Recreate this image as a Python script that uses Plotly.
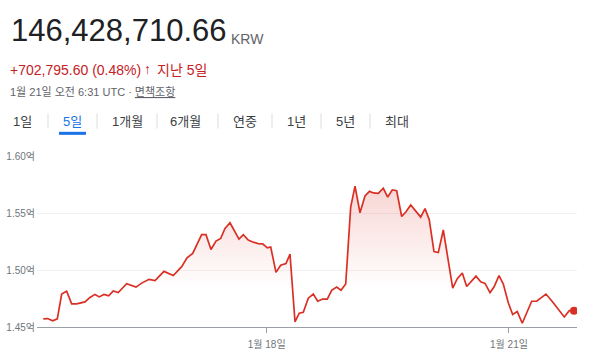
import plotly.graph_objects as go

# ---------------- data (values in 억 KRW) ----------------
times = [
    "2025-01-15 05:37", "2025-01-15 06:55", "2025-01-15 08:25", "2025-01-15 09:47",
    "2025-01-15 11:05", "2025-01-15 12:34", "2025-01-15 14:03", "2025-01-15 15:33",
    "2025-01-15 18:00", "2025-01-15 19:30", "2025-01-15 20:59", "2025-01-15 22:15",
    "2025-01-15 23:39", "2025-01-16 01:03", "2025-01-16 02:25", "2025-01-16 03:54",
    "2025-01-16 06:24", "2025-01-16 09:10", "2025-01-16 10:51", "2025-01-16 13:02",
    "2025-01-16 14:49", "2025-01-16 17:29", "2025-01-16 20:15", "2025-01-16 22:45",
    "2025-01-17 00:19", "2025-01-17 02:01", "2025-01-17 04:41", "2025-01-17 05:58",
    "2025-01-17 07:27", "2025-01-17 08:56", "2025-01-17 10:20", "2025-01-17 11:37",
    "2025-01-17 13:06", "2025-01-17 14:35", "2025-01-17 15:46", "2025-01-17 17:03",
    "2025-01-17 18:32", "2025-01-17 20:01", "2025-01-17 21:30", "2025-01-17 22:49",
    "2025-01-18 00:11", "2025-01-18 01:12", "2025-01-18 02:46", "2025-01-18 04:10",
    "2025-01-18 05:44", "2025-01-18 06:56", "2025-01-18 08:25", "2025-01-18 09:41",
    "2025-01-18 10:53", "2025-01-18 12:22", "2025-01-18 13:51", "2025-01-18 15:10",
    "2025-01-18 16:39", "2025-01-18 18:01", "2025-01-18 19:19", "2025-01-18 20:48",
    "2025-01-18 22:05", "2025-01-18 23:29", "2025-01-19 00:58", "2025-01-19 02:15",
    "2025-01-19 03:44", "2025-01-19 05:13", "2025-01-19 06:33", "2025-01-19 07:44",
    "2025-01-19 09:10", "2025-01-19 10:39", "2025-01-19 11:58", "2025-01-19 13:20",
    "2025-01-19 14:38", "2025-01-19 16:07", "2025-01-19 17:24", "2025-01-19 18:48",
    "2025-01-19 20:17", "2025-01-19 21:46", "2025-01-19 23:03", "2025-01-20 00:19",
    "2025-01-20 01:43", "2025-01-20 03:00", "2025-01-20 04:29", "2025-01-20 07:17",
    "2025-01-20 08:39", "2025-01-20 10:08", "2025-01-20 11:26", "2025-01-20 14:12",
    "2025-01-20 15:36", "2025-01-20 16:53", "2025-01-20 18:22", "2025-01-20 19:33",
    "2025-01-20 21:02", "2025-01-20 22:19", "2025-01-20 23:48", "2025-01-21 01:06",
    "2025-01-21 02:28", "2025-01-21 03:57", "2025-01-21 06:45", "2025-01-21 08:14",
    "2025-01-21 11:00", "2025-01-21 12:59", "2025-01-21 16:26", "2025-01-21 17:55",
    "2025-01-21 19:19",
]
prices = [
    1.4571, 1.4574, 1.4555, 1.4571, 1.4789, 1.4814, 1.4703, 1.4703,
    1.4720, 1.4759, 1.4786, 1.4764, 1.4786, 1.4773, 1.4817, 1.4802,
    1.4880, 1.4850, 1.4885, 1.4918, 1.4907, 1.4988, 1.4951, 1.5029,
    1.5106, 1.5145, 1.5310, 1.5310, 1.5180, 1.5254, 1.5277, 1.5364,
    1.5414, 1.5331, 1.5271, 1.5310, 1.5263, 1.5244, 1.5232, 1.5230,
    1.5194, 1.5202, 1.4979, 1.5042, 1.5056, 1.5139, 1.4546, 1.4621,
    1.4629, 1.4753, 1.4789, 1.4726, 1.4745, 1.4745, 1.4822, 1.4850,
    1.4822, 1.4877, 1.5552, 1.5736, 1.5502, 1.5649, 1.5690, 1.5676,
    1.5672, 1.5717, 1.5640, 1.5703, 1.5695, 1.5469, 1.5511, 1.5571,
    1.5519, 1.5464, 1.5538, 1.5442, 1.5161, 1.5153, 1.5351, 1.4841,
    1.4924, 1.4974, 1.4855, 1.4946, 1.4897, 1.4883, 1.4802, 1.4850,
    1.4951, 1.4877, 1.4712, 1.4610, 1.4635, 1.4533, 1.4726, 1.4726,
    1.4789, 1.4720, 1.4588, 1.4643, 1.4643,
]
y_ticks = [1.45, 1.50, 1.55, 1.60]
y_tick_labels = ["1.45억", "1.50억", "1.55억", "1.60억"]
x_tick_dates = ["2025-01-18 00:00", "2025-01-21 00:00"]
x_tick_labels = ["1월 18일", "1월 21일"]
tabs = ["1일", "5일", "1개월", "6개월", "연중", "1년", "5년", "최대"]
price_text = "146,428,710.66"
currency_text = "KRW"
change_text = "+702,795.60 (0.48%)"
period_text = "지난 5일"
date_text = "1월 21일 오전 6:31 UTC · "
disclaimer_text = "면책조항"

# ---------------- layout geometry ----------------
W, H = 600, 362
L, R, T, B = 37, 23, 156, 25
PW, PH = W - L - R, H - T - B

def px(X):
    return (X - L) / PW

def py(Y):
    return (H - B - Y) / PH

RED = "#d93025"
TXT_RED = "#c5221f"
GRAY = "#5f6368"
FONT = "Liberation Sans, Arial, Noto Sans CJK KR, sans-serif"

fig = go.Figure()
fig.add_trace(go.Scatter(
    x=times, y=prices, mode="lines",
    line=dict(color=RED, width=1.7),
    fill="tozeroy",
    fillgradient=dict(
        type="vertical",
        colorscale=[[0, "rgba(217,48,37,0)"], [1, "rgba(217,48,37,0.2)"]],
        start=1.49, stop=1.575,
    ),
    hoverinfo="skip", showlegend=False,
))
fig.add_trace(go.Scatter(
    x=[times[-1]], y=[prices[-1]], mode="markers",
    marker=dict(color=RED, size=8),
    hoverinfo="skip", showlegend=False,
))

annotations = []

def ann(text, X, Y, size, color, anchor="left", bold=False):
    annotations.append(dict(
        text=f"<b>{text}</b>" if bold else text,
        x=px(X), y=py(Y), xref="paper", yref="paper",
        xanchor=anchor, yanchor="middle", showarrow=False,
        font=dict(size=size, color=color, family=FONT),
    ))

ann(price_text, 9, 23, 31, "#202124")
ann(currency_text, 229, 32, 14, GRAY)
ann(change_text, 8, 65, 14, TXT_RED)
ann("↑", 147.5, 64, 14, TXT_RED, anchor="center", bold=True)
ann(period_text, 155, 65, 14, TXT_RED)
ann(date_text + "<u>" + disclaimer_text + "</u>", 8, 88, 11, GRAY)

tab_centers = [22.5, 72.5, 127.5, 185, 244.5, 296.5, 345, 396.5]
for t, cx in zip(tabs, tab_centers):
    ann(t, cx, 119, 13, "#1a73e8" if t == "5일" else "#3c4043", anchor="center")

shapes = []
for sx in [48, 97, 157, 218, 272, 321, 370]:
    shapes.append(dict(type="line", xref="paper", yref="paper",
                       x0=px(sx), x1=px(sx), y0=py(111), y1=py(127),
                       line=dict(color="#dadce0", width=1)))
shapes.append(dict(type="line", xref="paper", yref="paper",
                   x0=px(59), x1=px(86), y0=py(132), y1=py(132),
                   line=dict(color="#1a73e8", width=3)))

fig.update_layout(
    width=W, height=H, autosize=False,
    margin=dict(l=L, r=R, t=T, b=B, pad=0),
    paper_bgcolor="white", plot_bgcolor="white",
    font=dict(family=FONT, color="#70757a", size=10),
    annotations=annotations, shapes=shapes,
    xaxis=dict(
        type="date",
        range=["2025-01-15 03:45", "2025-01-21 20:13"],
        tickmode="array", tickvals=x_tick_dates, ticktext=x_tick_labels,
        ticks="outside", ticklen=5, tickcolor="#9aa0a6", tickwidth=1,
        ticklabelstandoff=3,
        showline=True, linecolor="#9aa0a6", linewidth=1,
        showgrid=False, zeroline=False,
        tickfont=dict(size=10, color="#70757a"),
    ),
    yaxis=dict(
        range=[1.45, 1.60],
        tickmode="array", tickvals=y_ticks, ticktext=y_tick_labels,
        showgrid=True, gridcolor="#f1f1f1", gridwidth=1,
        zeroline=False, showline=False,
        ticks="", ticklabelstandoff=1,
        tickfont=dict(size=10, color="#70757a"),
        automargin=False,
    ),
)

fig.write_html("out.html", config={"displayModeBar": False},
               post_script="document.body.style.margin='0';")
